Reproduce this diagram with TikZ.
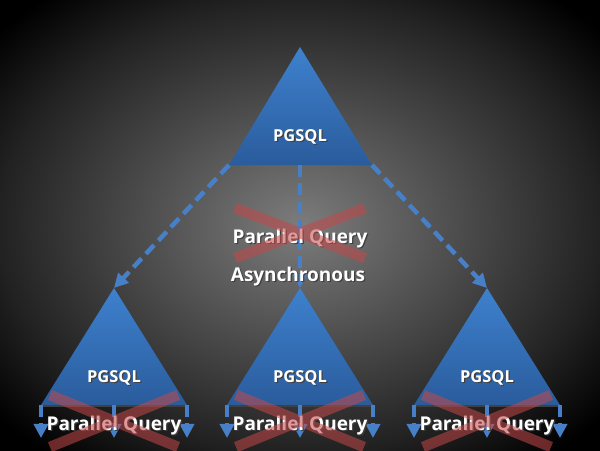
\documentclass[tikz,border=0pt]{standalone}
\usepackage{fontspec}
\setmainfont{Open Sans}
\usetikzlibrary{arrows.meta}

\definecolor{tritop}{RGB}{62,129,206}
\definecolor{tribot}{RGB}{42,92,156}
\definecolor{freccia}{RGB}{72,128,200}
\definecolor{rossox}{RGB}{196,72,72}
\definecolor{bgmid}{RGB}{124,124,124}
\definecolor{bgedge}{RGB}{34,34,34}
\pgfdeclareradialshading{sfondo}{\pgfpoint{0bp}{0bp}}{color(0bp)=(bgmid); color(25bp)=(bgedge); color(33bp)=(black); color(50bp)=(black)}

% testo bianco con ombra
\newcommand\ombra[1]{\makebox[0pt][l]{\kern0.9pt\raisebox{-0.9pt}{\textcolor{black!75}{#1}}}#1}

\begin{document}
\begin{tikzpicture}[x=0.025cm, y=-0.025cm, >={Triangle[length=10pt,width=10pt]},
    tri/.style={top color=tritop, bottom color=tribot},
    conn/.style={->, draw=freccia, line width=3.2pt, dash pattern=on 8.5pt off 4.5pt},
    barra/.style={draw=rossox, line width=7.5pt, opacity=0.55},
    lbl/.style={text=white, anchor=base, inner sep=0pt},
    nome/.style={lbl, font=\fontsize{11.7pt}{14pt}\selectfont\bfseries},
    testo/.style={lbl, font=\fontsize{13.5pt}{16pt}\selectfont\bfseries}]

    % Sfondo sfumato
    \shade[shading=sfondo] (0,0) rectangle (600,450);
    \useasboundingbox (0,0) rectangle (600,450);

    % Triangolo principale
    \coordinate (ta) at (300,47);
    \coordinate (tl) at (229,165);
    \coordinate (tr) at (372,165);
    \coordinate (tm) at (300,165);
    \path[tri] (ta) -- (tr) -- (tl) -- cycle;
    \node[nome] (pgt) at (300,141) {\ombra{PGSQL}};

    % Triangoli figli, con le tre frecce sotto la base
    \foreach \n/\x in {s/114, c/300, d/487} {
        \coordinate (\n a) at (\x,288);
        \coordinate (\n l) at (\x-73,405);
        \coordinate (\n r) at (\x+73,405);
        \coordinate (\n m) at (\x,405);
        \coordinate (\n l1) at (\x-73,438);
        \coordinate (\n r1) at (\x+73,438);
        \coordinate (\n m1) at (\x,438);
        \path[tri] (\n a) -- (\n r) -- (\n l) -- cycle;
        \draw[black!75, line width=1.2pt] ([yshift=-0.6pt]\n l) -- ([yshift=-0.6pt]\n r);
        \draw[conn] (\n l) -- (\n l1);
        \draw[conn] (\n m) -- (\n m1);
        \draw[conn] (\n r) -- (\n r1);
        \node[nome] (pg\n) at (\x,382) {\ombra{PGSQL}};
        \node[testo] (pq\n) at (\x,430) {\ombra{Parallel Query}};
        \draw[barra] (\x-64,395) -- (\x+64,447) (\x+64,395) -- (\x-64,447);
    }

    % Collegamenti tratteggiati
    \draw[conn] (tl) -- (sa);
    \draw[conn] (tm) -- (ca);
    \draw[conn] (tr) -- (da);

    % Etichette centrali
    \node[testo] (pqt) at (300,243) {\ombra{Parallel Query}};
    \node[testo] (asy) at (298,281) {\ombra{Asynchronous}};
    \draw[barra] (235,208) -- (365,258) (365,208) -- (235,258);
\end{tikzpicture}
\end{document}
